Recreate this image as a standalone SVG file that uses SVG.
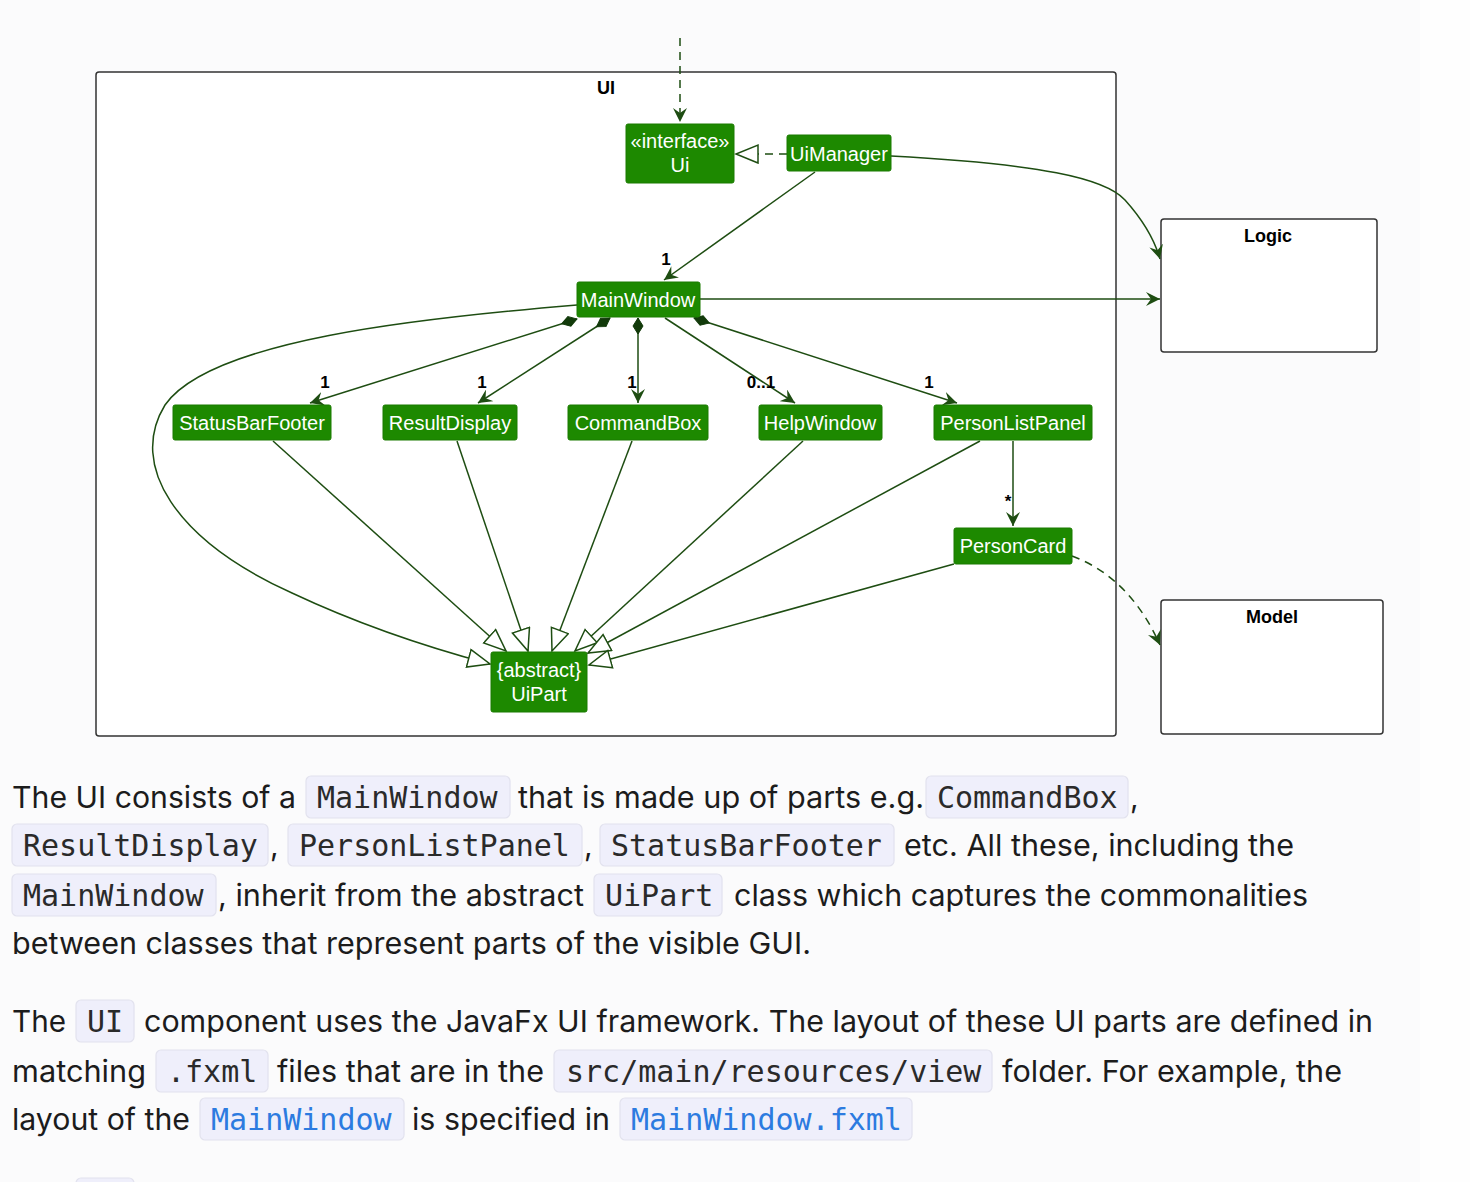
<svg xmlns="http://www.w3.org/2000/svg" width="1470" height="1182" viewBox="0 0 1470 1182">
<style>
.pkg{fill:#fff;stroke:#333;stroke-width:1.5}
.pt{font-family:"Liberation Sans",Arial,sans-serif;font-weight:bold;font-size:18px;fill:#000;text-anchor:middle}
.nb{fill:#1D8900;stroke:#1a7a00;stroke-width:1}
.nt{font-family:"Liberation Sans",Arial,sans-serif;font-size:20px;fill:#fff;text-anchor:middle}
.ln{fill:none;stroke:#1e4d12;stroke-width:1.5}
.dash{stroke-dasharray:8,6}
.lbl{font-family:"Liberation Sans",Arial,sans-serif;font-weight:bold;font-size:17px;fill:#000;text-anchor:middle}
.p{font-family:Inter,"Noto Sans",sans-serif;font-size:30px;fill:#1c1c1c}
.cb{fill:#efeffb;stroke:#e2e2ee;stroke-width:1.2}
.c{font-family:"DejaVu Sans Mono","Liberation Mono",monospace;font-size:30px;fill:#2a2a2a}
.cl{font-family:"DejaVu Sans Mono","Liberation Mono",monospace;font-size:30px;fill:#2c7be0}
</style>
<defs>
<marker id="open" markerUnits="userSpaceOnUse" markerWidth="16" markerHeight="14" refX="14" refY="7" orient="auto">
<path d="M0,0 L14,7 L0,14 L5,7 Z" fill="#1e4d12"/>
</marker>
<marker id="tri" markerUnits="userSpaceOnUse" markerWidth="26" markerHeight="22" refX="23" refY="10" orient="auto">
<path d="M1,1 L23,10 L1,19 Z" fill="#fff" stroke="#1e4d12" stroke-width="1.5"/>
</marker>
<marker id="dia" markerUnits="userSpaceOnUse" markerWidth="20" markerHeight="12" refX="1" refY="6" orient="auto">
<path d="M1,6 L9,1 L17,6 L9,11 Z" fill="#123a0a" stroke="#123a0a" stroke-width="1"/>
</marker>
</defs>
<rect x="0" y="0" width="1470" height="1182" fill="#fefefe"/>
<rect x="0" y="0" width="1420" height="1182" fill="#fbfbfc"/>

<g id="pkg-UI"><rect class="pkg" x="96" y="72" width="1020" height="664" rx="3"/><text class="pt" x="606" y="94">UI</text></g>
<g id="pkg-Logic"><rect class="pkg" x="1161" y="219" width="216" height="133" rx="3"/><text class="pt" x="1268" y="242">Logic</text></g>
<g id="pkg-Model"><rect class="pkg" x="1161" y="600" width="222" height="134" rx="3"/><text class="pt" x="1272" y="623">Model</text></g>

<g id="connectors">
<path class="ln dash" d="M680,38 L680,122" marker-end="url(#open)"/>
<path class="ln dash" d="M787,154 L736,154" marker-end="url(#tri)"/>
<path class="ln" d="M815,172 L664,280" marker-end="url(#open)"/>
<path class="ln" d="M891,156 C1040,164 1105,178 1125,200 C1143,220 1154,238 1160,259" marker-end="url(#open)"/>
<path class="ln" d="M700,299 L1160,299" marker-end="url(#open)"/>
<path class="ln" d="M577,319 L310,403" marker-start="url(#dia)" marker-end="url(#open)"/>
<path class="ln" d="M610,318 L478,403" marker-start="url(#dia)" marker-end="url(#open)"/>
<path class="ln" d="M638,318 L638,403" marker-start="url(#dia)" marker-end="url(#open)"/>
<path class="ln" d="M665,318 L795,403" marker-end="url(#open)"/>
<path class="ln" d="M694,318 L957,403" marker-start="url(#dia)" marker-end="url(#open)"/>
<path class="ln" d="M1013,441 L1013,526" marker-end="url(#open)"/>
<path class="ln dash" d="M1072,556 C1110,570 1140,600 1160,645" marker-end="url(#open)"/>
<path class="ln" d="M577,305 C420,318 210,340 165,405 C128,465 175,540 292,593 C360,625 430,648 490,664" marker-end="url(#tri)"/>
<path class="ln" d="M273,441 L506,651" marker-end="url(#tri)"/>
<path class="ln" d="M457,441 L528,651" marker-end="url(#tri)"/>
<path class="ln" d="M632,441 L552,651" marker-end="url(#tri)"/>
<path class="ln" d="M803,441 L575,651" marker-end="url(#tri)"/>
<path class="ln" d="M980,441 L588,653" marker-end="url(#tri)"/>
<path class="ln" d="M954,564 L589,665" marker-end="url(#tri)"/>
<text class="lbl" x="666" y="265">1</text>
<text class="lbl" x="325" y="388">1</text>
<text class="lbl" x="482" y="388">1</text>
<text class="lbl" x="632" y="388">1</text>
<text class="lbl" x="761" y="388">0..1</text>
<text class="lbl" x="929" y="388">1</text>
<text class="lbl" x="1008" y="507">*</text>
</g>

<g id="node-Ui"><rect class="nb" x="626" y="124" width="108" height="59" rx="2"/><text class="nt" x="680" y="148">«interface»</text><text class="nt" x="680" y="172">Ui</text></g>
<g id="node-UiManager"><rect class="nb" x="787" y="135" width="104" height="36" rx="2"/><text class="nt" x="839" y="161">UiManager</text></g>
<g id="node-MainWindow"><rect class="nb" x="577" y="282" width="123" height="35" rx="2"/><text class="nt" x="638" y="307">MainWindow</text></g>
<g id="node-StatusBarFooter"><rect class="nb" x="173" y="405" width="158" height="35" rx="2"/><text class="nt" x="252" y="430">StatusBarFooter</text></g>
<g id="node-ResultDisplay"><rect class="nb" x="383" y="405" width="134" height="35" rx="2"/><text class="nt" x="450" y="430">ResultDisplay</text></g>
<g id="node-CommandBox"><rect class="nb" x="568" y="405" width="140" height="35" rx="2"/><text class="nt" x="638" y="430">CommandBox</text></g>
<g id="node-HelpWindow"><rect class="nb" x="759" y="405" width="123" height="35" rx="2"/><text class="nt" x="820" y="430">HelpWindow</text></g>
<g id="node-PersonListPanel"><rect class="nb" x="934" y="405" width="158" height="35" rx="2"/><text class="nt" x="1013" y="430">PersonListPanel</text></g>
<g id="node-PersonCard"><rect class="nb" x="954" y="528" width="118" height="36" rx="2"/><text class="nt" x="1013" y="553">PersonCard</text></g>
<g id="node-UiPart"><rect class="nb" x="491" y="652" width="96" height="60" rx="2"/><text class="nt" x="539" y="677">{abstract}</text><text class="nt" x="539" y="701">UiPart</text></g>

<g id="prose">
<rect class="cb" x="306" y="776" width="204" height="42" rx="5"/>
<rect class="cb" x="926" y="776" width="202" height="42" rx="5"/>
<rect class="cb" x="12" y="824" width="256" height="42" rx="5"/>
<rect class="cb" x="288" y="824" width="294" height="42" rx="5"/>
<rect class="cb" x="600" y="824" width="294" height="42" rx="5"/>
<rect class="cb" x="12" y="874" width="204" height="42" rx="5"/>
<rect class="cb" x="594" y="874" width="128" height="42" rx="5"/>
<rect class="cb" x="76" y="1000" width="58" height="42" rx="5"/>
<rect class="cb" x="156" y="1050" width="112" height="42" rx="5"/>
<rect class="cb" x="554" y="1050" width="438" height="42" rx="5"/>
<rect class="cb" x="200" y="1098" width="204" height="42" rx="5"/>
<rect class="cb" x="620" y="1098" width="292" height="42" rx="5"/>
<rect class="cb" x="76" y="1178" width="58" height="20" rx="5"/>

<text class="p" x="12" y="808" textLength="284" lengthAdjust="spacingAndGlyphs">The UI consists of a</text>
<text class="c" x="317" y="808">MainWindow</text>
<text class="p" x="518" y="808" textLength="406" lengthAdjust="spacingAndGlyphs">that is made up of parts e.g.</text>
<text class="c" x="937" y="808">CommandBox</text>
<text class="p" x="1130" y="808">,</text>

<text class="c" x="23" y="856">ResultDisplay</text>
<text class="p" x="270" y="856">,</text>
<text class="c" x="299" y="856">PersonListPanel</text>
<text class="p" x="584" y="856">,</text>
<text class="c" x="611" y="856">StatusBarFooter</text>
<text class="p" x="904" y="856" textLength="390" lengthAdjust="spacingAndGlyphs">etc. All these, including the</text>

<text class="c" x="23" y="906">MainWindow</text>
<text class="p" x="218" y="906" textLength="366" lengthAdjust="spacingAndGlyphs">, inherit from the abstract</text>
<text class="c" x="605" y="906">UiPart</text>
<text class="p" x="734" y="906" textLength="574" lengthAdjust="spacingAndGlyphs">class which captures the commonalities</text>

<text class="p" x="12" y="954" textLength="799" lengthAdjust="spacingAndGlyphs">between classes that represent parts of the visible GUI.</text>

<text class="p" x="12" y="1032" textLength="54" lengthAdjust="spacingAndGlyphs">The</text>
<text class="c" x="87" y="1032">UI</text>
<text class="p" x="144" y="1032" textLength="1229" lengthAdjust="spacingAndGlyphs">component uses the JavaFx UI framework. The layout of these UI parts are defined in</text>

<text class="p" x="12" y="1082" textLength="134" lengthAdjust="spacingAndGlyphs">matching</text>
<text class="c" x="167" y="1082">.fxml</text>
<text class="p" x="277" y="1082" textLength="267" lengthAdjust="spacingAndGlyphs">files that are in the</text>
<text class="c" x="566" y="1082">src/main/resources/view</text>
<text class="p" x="1002" y="1082" textLength="340" lengthAdjust="spacingAndGlyphs">folder. For example, the</text>

<text class="p" x="12" y="1130" textLength="178" lengthAdjust="spacingAndGlyphs">layout of the</text>
<text class="cl" x="211" y="1130">MainWindow</text>
<text class="p" x="412" y="1130" textLength="198" lengthAdjust="spacingAndGlyphs">is specified in</text>
<text class="cl" x="631" y="1130">MainWindow.fxml</text>
</g>
</svg>
